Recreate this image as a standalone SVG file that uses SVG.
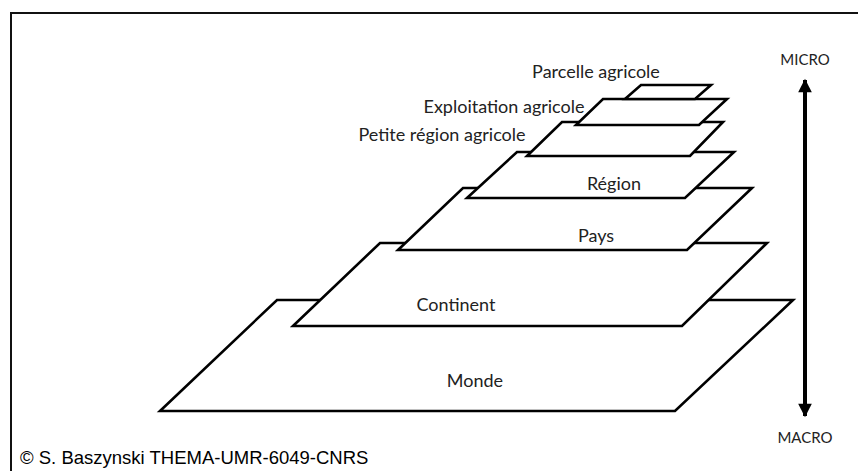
<svg xmlns="http://www.w3.org/2000/svg" width="858" height="471" viewBox="0 0 858 471">
<style>
.lay{fill:#fff;stroke:#000;stroke-width:2.6;stroke-linejoin:miter}
.lbl{font-family:Lato,"Open Sans",sans-serif;font-size:18px;fill:#222;text-anchor:middle}
.cap{font-family:Lato,"Open Sans",sans-serif;font-size:15px;fill:#222;text-anchor:middle}
.copy{font-family:"Liberation Sans",Arial,sans-serif;font-size:18.5px;fill:#000}
</style>
<defs>
<marker id="ah" viewBox="0 0 10 10" refX="9" refY="5" markerWidth="4.4" markerHeight="3.4" orient="auto-start-reverse" markerUnits="strokeWidth">
<path d="M0,0 L10,5 L0,10 Z" fill="#000"/>
</marker>
</defs>
<rect x="0" y="0" width="858" height="471" fill="#fff"/>
<rect x="11" y="13" width="870" height="480" fill="none" stroke="#111" stroke-width="2"/>
<g id="monde">
<polygon class="lay" points="160,411 675,411 793,300 277,300"/>
<text class="lbl" x="475" y="387">Monde</text>
</g>
<g id="continent">
<polygon class="lay" points="293,326 682,326 767,243 380,243"/>
<text class="lbl" x="456" y="311">Continent</text>
</g>
<g id="pays">
<polygon class="lay" points="398,250 687,250 752,188 463,188"/>
<text class="lbl" x="596" y="242">Pays</text>
</g>
<g id="region">
<polygon class="lay" points="467,198 685,198 734,152 517,152"/>
<text class="lbl" x="614" y="190">Région</text>
</g>
<g id="petite-region">
<polygon class="lay" points="527,156 690,156 723,122 562,122"/>
<text class="lbl" x="442" y="141">Petite région agricole</text>
</g>
<g id="exploitation">
<polygon class="lay" points="576,125 699,125 727,99 603,99"/>
<text class="lbl" x="504" y="113">Exploitation agricole</text>
</g>
<g id="parcelle">
<polygon class="lay" points="625,99 695,99 711,85 641,85"/>
<text class="lbl" x="596" y="78">Parcelle agricole</text>
</g>
<g id="connectors">
<line x1="805" y1="416" x2="805" y2="80" stroke="#000" stroke-width="4" marker-start="url(#ah)" marker-end="url(#ah)"/>
</g>
<g id="scale-labels">
<text class="cap" x="805" y="65">MICRO</text>
<text class="cap" x="805" y="443">MACRO</text>
</g>
<text class="copy" x="20" y="464">© S. Baszynski THEMA-UMR-6049-CNRS</text>
</svg>
